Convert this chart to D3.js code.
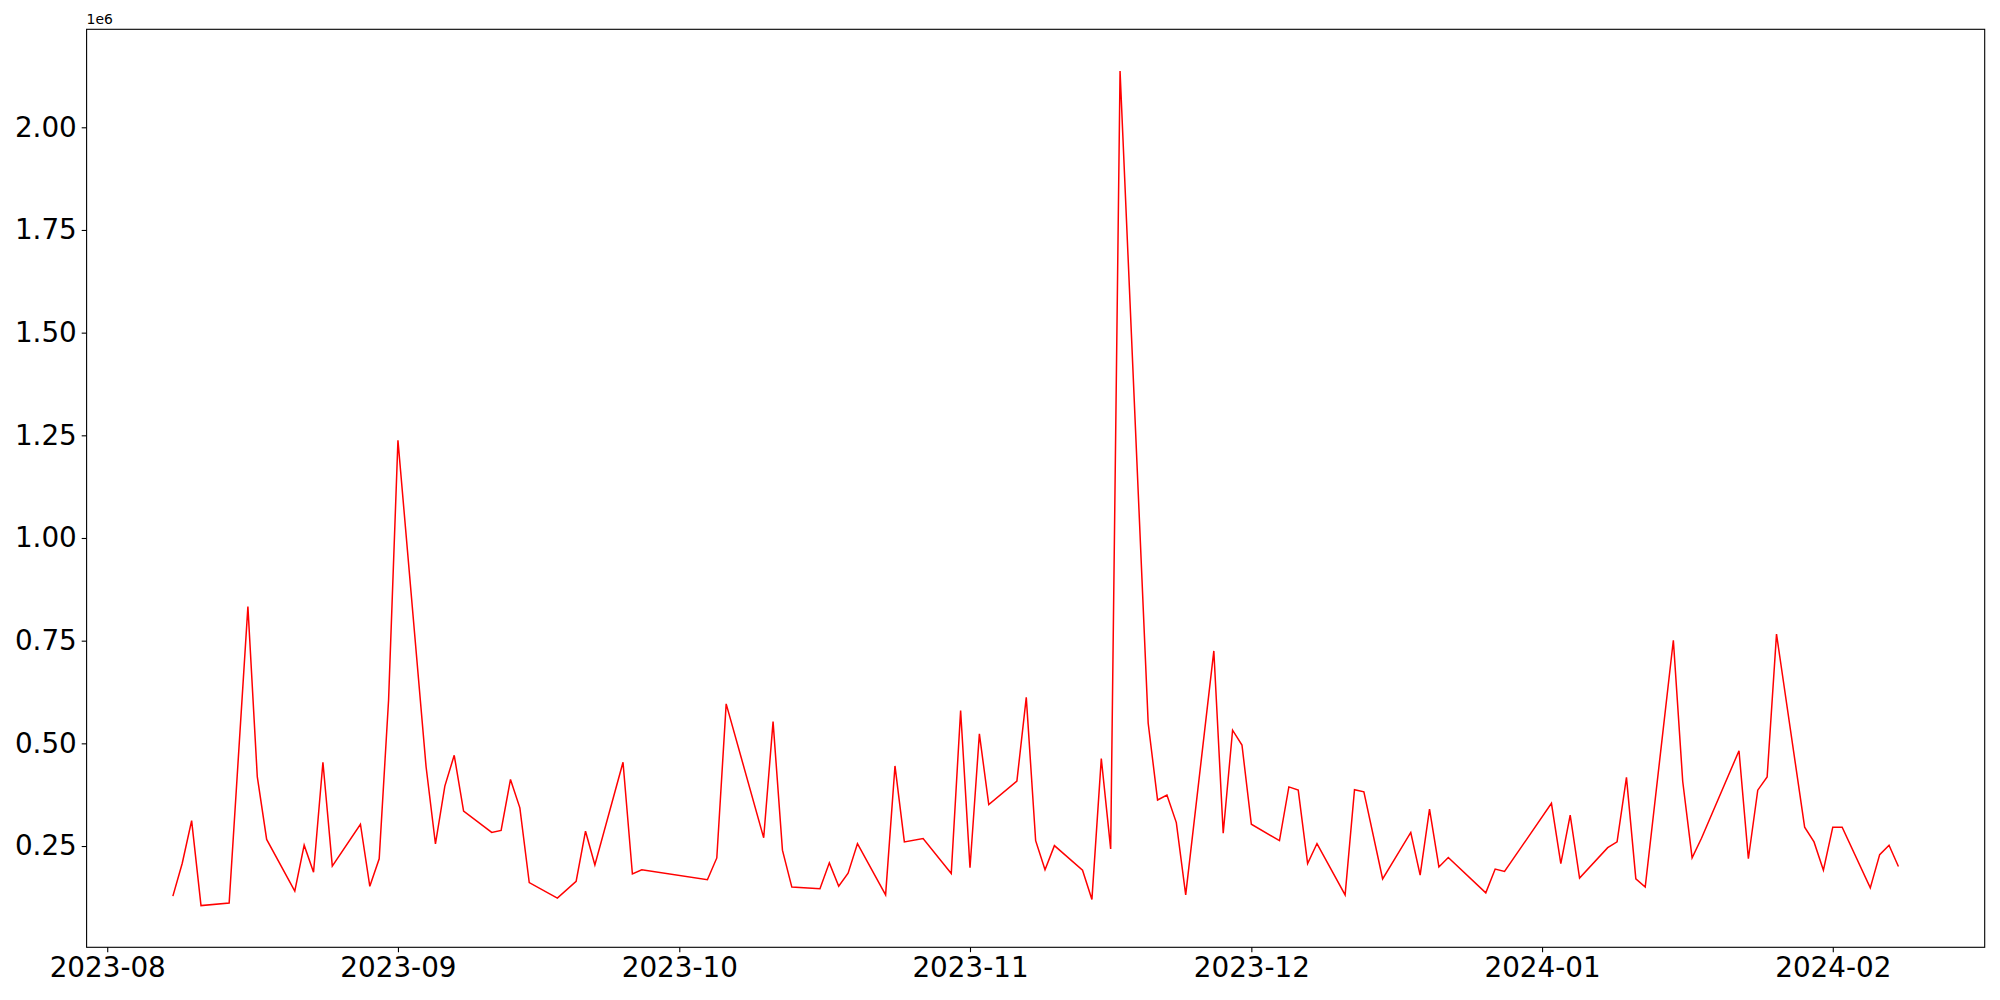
<!DOCTYPE html>
<html>
<head>
<meta charset="utf-8">
<script src="https://cdn.jsdelivr.net/npm/d3@7"></script>
<style>
  body { margin: 0; background: #fff; }
  text { font-family: 'DejaVu Sans', sans-serif; }
</style>
</head>
<body>
<script>
// daily values
var dates = [
  '2023-08-08', '2023-08-09', '2023-08-10', '2023-08-11', '2023-08-14', '2023-08-16', '2023-08-17', '2023-08-18',
  '2023-08-21', '2023-08-22', '2023-08-23', '2023-08-24', '2023-08-25', '2023-08-28', '2023-08-29', '2023-08-30',
  '2023-08-31', '2023-09-01', '2023-09-04', '2023-09-05', '2023-09-06', '2023-09-07', '2023-09-08', '2023-09-11',
  '2023-09-12', '2023-09-13', '2023-09-14', '2023-09-15', '2023-09-18', '2023-09-20', '2023-09-21', '2023-09-22',
  '2023-09-25', '2023-09-26', '2023-09-27', '2023-10-04', '2023-10-05', '2023-10-06', '2023-10-10', '2023-10-11',
  '2023-10-12', '2023-10-13', '2023-10-16', '2023-10-17', '2023-10-18', '2023-10-19', '2023-10-20', '2023-10-23',
  '2023-10-24', '2023-10-25', '2023-10-27', '2023-10-30', '2023-10-31', '2023-11-01', '2023-11-02', '2023-11-03',
  '2023-11-06', '2023-11-07', '2023-11-08', '2023-11-09', '2023-11-10', '2023-11-13', '2023-11-14', '2023-11-15',
  '2023-11-16', '2023-11-17', '2023-11-20', '2023-11-21', '2023-11-22', '2023-11-23', '2023-11-24', '2023-11-27',
  '2023-11-28', '2023-11-29', '2023-11-30', '2023-12-01', '2023-12-04', '2023-12-05', '2023-12-06', '2023-12-07',
  '2023-12-08', '2023-12-11', '2023-12-12', '2023-12-13', '2023-12-15', '2023-12-18', '2023-12-19', '2023-12-20',
  '2023-12-21', '2023-12-22', '2023-12-26', '2023-12-27', '2023-12-28', '2024-01-02', '2024-01-03', '2024-01-04',
  '2024-01-05', '2024-01-08', '2024-01-09', '2024-01-10', '2024-01-11', '2024-01-12', '2024-01-15', '2024-01-16',
  '2024-01-17', '2024-01-18', '2024-01-22', '2024-01-23', '2024-01-24', '2024-01-25', '2024-01-26', '2024-01-29',
  '2024-01-30', '2024-01-31', '2024-02-01', '2024-02-02', '2024-02-05', '2024-02-06', '2024-02-07', '2024-02-08'
];

var values = [
  128000, 208000, 312000, 105000, 111000, 833000, 419000, 266000,
  140000, 252000, 186000, 454000, 201000, 303000, 152000, 219000,
  605000, 1238000, 443000, 255000, 396000, 471000, 335000, 283000,
  288000, 412000, 343000, 161000, 123000, 164000, 286000, 204000,
  454000, 182000, 192000, 168000, 221000, 596000, 270000, 553000,
  240000, 150000, 146000, 209000, 152000, 184000, 256000, 131000,
  445000, 260000, 268000, 183000, 580000, 197000, 523000, 351000,
  408000, 612000, 263000, 192000, 251000, 191000, 120000, 463000,
  243000, 2137000, 549000, 362000, 374000, 307000, 131000, 725000,
  281000, 532000, 496000, 303000, 263000, 394000, 386000, 207000,
  256000, 131000, 387000, 382000, 170000, 283000, 179000, 340000,
  199000, 222000, 136000, 194000, 188000, 354000, 207000, 325000,
  172000, 246000, 260000, 417000, 170000, 150000, 751000, 407000,
  221000, 269000, 482000, 219000, 386000, 418000, 766000, 296000,
  260000, 191000, 296000, 296000, 148000, 229000, 252000, 200000
];

var yTicks = [250000, 500000, 750000, 1000000, 1250000, 1500000, 1750000, 2000000];
var xTicks = ['2023-08-01', '2023-09-01', '2023-10-01', '2023-11-01', '2023-12-01', '2024-01-01', '2024-02-01'];

drawChart();

function drawChart() {
  var W = 2000, H = 1000;
  var padL = 86.6, padR = 1984.7, padT = 29.3, padB = 947.3;
  var FS = 27.8;

  var parse = d3.timeParse('%Y-%m-%d');
  var points = dates.map(function(d, i) { return { date: parse(d), value: values[i] }; });

  // matplotlib-style 5% padding on each side
  var xExt = d3.extent(points, function(d) { return d.date; });
  var xPad = (xExt[1] - xExt[0]) * 0.05;
  var yExt = d3.extent(points, function(d) { return d.value; });
  var yPad = (yExt[1] - yExt[0]) * 0.05;

  var x = d3.scaleTime()
    .domain([new Date(+xExt[0] - xPad), new Date(+xExt[1] + xPad)])
    .range([padL, padR]);

  var y = d3.scaleLinear()
    .domain([yExt[0] - yPad, yExt[1] + yPad])
    .range([padB, padT]);

  var svg = d3.select('body').append('svg')
    .attr('width', W)
    .attr('height', H);

  var xAxis = svg.append('g')
    .attr('transform', 'translate(0,' + padB + ')')
    .call(d3.axisBottom(x)
      .tickValues(xTicks.map(parse))
      .tickFormat(d3.timeFormat('%Y-%m'))
      .tickSizeInner(4.9)
      .tickSizeOuter(0)
      .tickPadding(4.9));

  var yAxis = svg.append('g')
    .attr('transform', 'translate(' + padL + ',0)')
    .call(d3.axisLeft(y)
      .tickValues(yTicks)
      .tickFormat(function(d) { return (d / 1e6).toFixed(2); })
      .tickSizeInner(4.9)
      .tickSizeOuter(0)
      .tickPadding(4.9));

  [xAxis, yAxis].forEach(function(g) {
    g.select('.domain').remove();
    g.selectAll('.tick line').attr('stroke', '#000').attr('stroke-width', 1.1);
    g.selectAll('.tick text')
      .attr('fill', '#000')
      .style('font-size', FS + 'px')
      .style('font-family', 'DejaVu Sans, sans-serif');
  });

  svg.append('path')
    .datum(points)
    .attr('fill', 'none')
    .attr('stroke', '#ff0000')
    .attr('stroke-width', 1.5)
    .attr('stroke-linejoin', 'miter')
    .attr('d', d3.line()
      .x(function(d) { return x(d.date); })
      .y(function(d) { return y(d.value); }));

  // frame
  svg.append('rect')
    .attr('x', padL)
    .attr('y', padT)
    .attr('width', padR - padL)
    .attr('height', padB - padT)
    .attr('fill', 'none')
    .attr('stroke', '#000')
    .attr('stroke-width', 1.1);

  // offset label
  svg.append('text')
    .attr('x', padL)
    .attr('y', padT - 5)
    .style('font-size', '13.9px')
    .text('1e6');
}
</script>
</body>
</html>
